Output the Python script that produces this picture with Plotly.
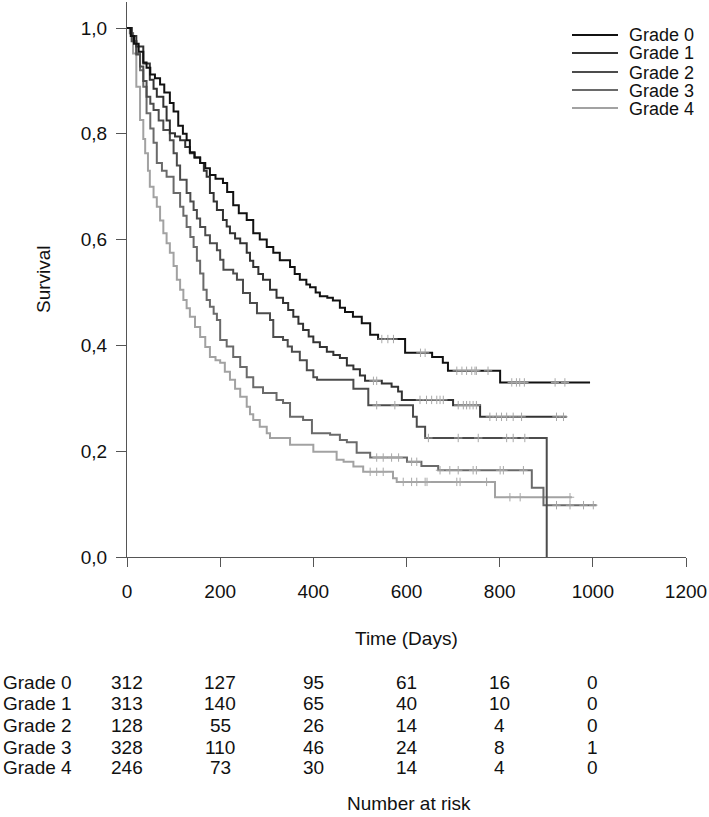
import numpy as np
import plotly.graph_objects as go

# ---------------- data ----------------
grades = ["Grade 0", "Grade 1", "Grade 2", "Grade 3", "Grade 4"]

g0_t = [0, 8, 15, 25, 35, 42, 50, 60, 71, 80, 92, 100, 110, 120, 128, 135, 145, 157, 168, 178, 190, 206,
        215, 228, 240, 257, 271, 285, 300, 314, 328, 350, 360, 371, 385, 393, 405, 414, 430, 442, 457, 468,
        485, 504, 522, 539, 597, 655, 678, 689, 801, 994]
g0_s = [1.0, 0.985, 0.970, 0.955, 0.935, 0.925, 0.912, 0.905, 0.893, 0.878, 0.858, 0.842, 0.815, 0.800,
        0.788, 0.765, 0.755, 0.745, 0.735, 0.722, 0.715, 0.707, 0.690, 0.665, 0.650, 0.637, 0.612, 0.600,
        0.586, 0.575, 0.561, 0.548, 0.535, 0.524, 0.515, 0.510, 0.500, 0.493, 0.490, 0.485, 0.471, 0.463,
        0.454, 0.442, 0.420, 0.412, 0.386, 0.378, 0.367, 0.352, 0.330, 0.330]

g1_t = [0, 10, 20, 35, 49, 57, 64, 78, 85, 92, 103, 114, 125, 135, 145, 157, 165, 171, 178, 186, 193, 206,
        214, 221, 232, 243, 257, 264, 271, 282, 292, 307, 321, 335, 346, 357, 368, 378, 390, 400, 414, 429,
        443, 457, 472, 486, 500, 511, 547, 568, 582, 590, 700, 758, 944]
g1_s = [1.0, 0.985, 0.965, 0.933, 0.902, 0.885, 0.870, 0.851, 0.825, 0.801, 0.795, 0.788, 0.775, 0.763,
        0.755, 0.745, 0.730, 0.719, 0.688, 0.672, 0.656, 0.637, 0.625, 0.612, 0.602, 0.593, 0.575, 0.560,
        0.548, 0.535, 0.524, 0.505, 0.490, 0.480, 0.467, 0.454, 0.441, 0.429, 0.417, 0.406, 0.397, 0.388,
        0.382, 0.376, 0.362, 0.355, 0.343, 0.333, 0.328, 0.322, 0.313, 0.297, 0.287, 0.265, 0.265]

g2_t = [0, 10, 20, 28, 35, 42, 50, 57, 68, 78, 92, 100, 107, 114, 128, 136, 143, 150, 157, 168, 178, 193,
        200, 207, 228, 236, 249, 264, 279, 307, 314, 335, 345, 354, 371, 386, 400, 408, 486, 518, 614, 622,
        640, 901]
g2_s = [1.0, 0.975, 0.950, 0.927, 0.900, 0.870, 0.857, 0.845, 0.825, 0.807, 0.788, 0.763, 0.740, 0.713,
        0.688, 0.672, 0.656, 0.640, 0.624, 0.608, 0.593, 0.580, 0.562, 0.543, 0.536, 0.524, 0.499, 0.480,
        0.461, 0.448, 0.416, 0.410, 0.398, 0.388, 0.372, 0.353, 0.340, 0.335, 0.318, 0.287, 0.265, 0.246,
        0.225, 0.0]

g3_t = [0, 7, 13, 20, 28, 35, 42, 50, 57, 64, 75, 85, 100, 114, 121, 128, 136, 143, 150, 157, 164, 171,
        178, 186, 193, 200, 214, 228, 243, 257, 271, 292, 321, 335, 350, 378, 397, 436, 457, 472, 493, 522,
        601, 632, 668, 869, 894, 1008]
g3_s = [1.0, 0.990, 0.975, 0.952, 0.920, 0.889, 0.839, 0.810, 0.783, 0.745, 0.730, 0.719, 0.688, 0.662,
        0.645, 0.624, 0.605, 0.586, 0.560, 0.536, 0.505, 0.486, 0.473, 0.460, 0.448, 0.410, 0.398, 0.378,
        0.359, 0.340, 0.321, 0.310, 0.297, 0.291, 0.265, 0.259, 0.234, 0.231, 0.221, 0.217, 0.197, 0.188,
        0.180, 0.172, 0.164, 0.131, 0.098, 0.098]

g4_t = [0, 6, 13, 20, 28, 35, 39, 45, 49, 57, 64, 71, 78, 85, 92, 100, 107, 114, 121, 128, 135, 146, 157,
        168, 178, 190, 200, 210, 221, 232, 243, 257, 264, 271, 285, 300, 307, 350, 400, 450, 465, 486, 507,
        571, 579, 790, 955]
g4_s = [1.0, 0.990, 0.952, 0.889, 0.826, 0.790, 0.763, 0.730, 0.700, 0.680, 0.662, 0.636, 0.612, 0.593,
        0.575, 0.550, 0.524, 0.505, 0.486, 0.470, 0.454, 0.435, 0.416, 0.397, 0.378, 0.372, 0.367, 0.350,
        0.335, 0.318, 0.303, 0.284, 0.270, 0.259, 0.246, 0.234, 0.225, 0.212, 0.199, 0.184, 0.180, 0.171,
        0.161, 0.149, 0.142, 0.113, 0.113]

# censoring times (tick marks)
c0 = [547, 560, 572, 630, 640, 708, 719, 729, 740, 747, 750, 775, 826, 836, 843, 853, 919, 940]
c1 = [529, 536, 629, 643, 654, 665, 672, 679, 711, 722, 729, 736, 743, 750, 779, 793, 804, 815, 829, 847, 922, 937]
c2 = [536, 575, 647, 711, 754, 815, 829, 854]
c3 = [536, 550, 568, 583, 611, 622, 672, 693, 711, 743, 750, 801, 808, 851, 922, 951, 980, 1001]
c4 = [522, 536, 550, 593, 611, 622, 640, 644, 708, 715, 772, 822, 844, 951]

# number at risk table
risk_times = [0, 200, 400, 600, 800, 1000]
risk_g0 = [312, 127, 95, 61, 16, 0]
risk_g1 = [313, 140, 65, 40, 10, 0]
risk_g2 = [128, 55, 26, 14, 4, 0]
risk_g3 = [328, 110, 46, 24, 8, 1]
risk_g4 = [246, 73, 30, 14, 4, 0]

x_ticks = [0, 200, 400, 600, 800, 1000, 1200]
y_ticks = [0.0, 0.2, 0.4, 0.6, 0.8, 1.0]
y_ticklabels = ["0,0", "0,2", "0,4", "0,6", "0,8", "1,0"]

# ---------------- styling ----------------
colors = ["#111111", "#333333", "#4c4c4c", "#6a6a6a", "#a2a2a2"]
FONT = "Liberation Sans, Arial, sans-serif"
FS = 19
W, H = 709, 817
AX_LEFT, AX_RIGHT, AX_TOP, AX_BOTTOM = 127, 686, 2, 557
L = AX_LEFT
R = W - AX_RIGHT
T = AX_TOP
B = H - AX_BOTTOM
plot_h = H - T - B
plot_w = W - L - R
UNIT = 529.0                 # pixels per 1.0 survival


def py(pix):
    return (AX_BOTTOM - pix) / plot_h


def px(pix):
    return (pix - AX_LEFT) / plot_w


curves = [(g0_t, g0_s, c0), (g1_t, g1_s, c1), (g2_t, g2_s, c2), (g3_t, g3_s, c3), (g4_t, g4_s, c4)]
risks = [risk_g0, risk_g1, risk_g2, risk_g3, risk_g4]

fig = go.Figure()

for i in reversed(range(5)):
    t, s, c = curves[i]
    fig.add_trace(go.Scatter(x=t, y=s, mode="lines", line=dict(color=colors[i], width=2, shape="hv"),
                             name=grades[i], showlegend=False, hoverinfo="skip"))
    ta = np.array(t)
    sa = np.array(s)
    idx = np.searchsorted(ta, np.array(c), side="right") - 1
    fig.add_trace(go.Scatter(x=c, y=sa[idx], mode="markers",
                             marker=dict(symbol="cross-thin", size=6, line=dict(color="#a8a8a8", width=1)),
                             showlegend=False, hoverinfo="skip"))

annotations = []
shapes = []

# legend
leg_rows = [35, 53, 72, 90, 108]
for i in range(5):
    shapes.append(dict(type="line", xref="paper", yref="paper", x0=px(572), x1=px(618),
                       y0=py(leg_rows[i]), y1=py(leg_rows[i]), line=dict(color=colors[i], width=2)))
    annotations.append(dict(text=grades[i], xref="paper", yref="paper", x=px(628), y=py(leg_rows[i]),
                            xanchor="left", yanchor="middle", showarrow=False, borderpad=0, height=17,
                            font=dict(family=FONT, size=18, color="#111")))

# axis titles
annotations.append(dict(text="Time (Days)", xref="paper", yref="paper", x=0.5, y=py(638),
                        xanchor="center", yanchor="middle", showarrow=False,
                        font=dict(family=FONT, size=FS, color="#111")))
annotations.append(dict(text="Survival", xref="paper", yref="paper", x=px(43), y=py(279), textangle=-90,
                        xanchor="center", yanchor="middle", showarrow=False,
                        font=dict(family=FONT, size=FS, color="#111")))
annotations.append(dict(text="Number at risk", xref="paper", yref="paper", x=px(409), y=py(804),
                        xanchor="center", yanchor="middle", showarrow=False,
                        font=dict(family=FONT, size=FS, color="#111")))

# number at risk table
row_pix = [682, 703, 725, 747, 767]
for i in range(5):
    annotations.append(dict(text=grades[i], xref="paper", yref="paper", x=px(2), y=py(row_pix[i]),
                            xanchor="left", yanchor="middle", showarrow=False, borderpad=0,
                            font=dict(family=FONT, size=FS, color="#111")))
    for tt, n in zip(risk_times, risks[i]):
        annotations.append(dict(text=str(n), xref="x", yref="paper", x=tt, y=py(row_pix[i]),
                                xanchor="center", yanchor="middle", showarrow=False,
                                font=dict(family=FONT, size=FS, color="#111")))

fig.update_layout(
    width=W, height=H,
    margin=dict(l=L, r=R, t=T, b=B, pad=0),
    paper_bgcolor="white", plot_bgcolor="white",
    showlegend=False,
    annotations=annotations, shapes=shapes,
    font=dict(family=FONT, size=FS, color="#111"),
)
fig.update_xaxes(range=[0, 1200], tickvals=x_ticks, ticktext=[str(v) for v in x_ticks],
                 ticks="outside", ticklen=9, tickcolor="#555", tickwidth=1,
                 showline=True, linecolor="#555", linewidth=1, showgrid=False, zeroline=False,
                 ticklabelstandoff=8, tickfont=dict(family=FONT, size=FS, color="#111"))
fig.update_yaxes(range=[0, plot_h / UNIT], tickvals=y_ticks, ticktext=y_ticklabels,
                 ticks="outside", ticklen=10, tickcolor="#555", tickwidth=1,
                 showline=True, linecolor="#555", linewidth=1, showgrid=False, zeroline=False,
                 ticklabelstandoff=5, tickfont=dict(family=FONT, size=FS, color="#111"))

fig.write_html("out.html", config={"displayModeBar": False},
               post_script="document.body.style.margin='0';document.body.style.overflow='hidden';")
